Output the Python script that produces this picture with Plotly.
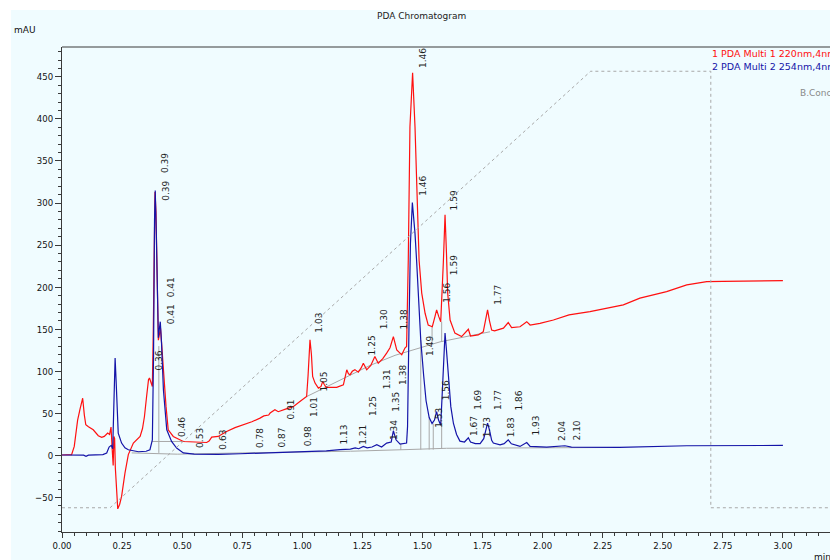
import plotly.graph_objects as go

# ---- Channel 1: PDA Multi 1, 220 nm (time / min, absorbance / mAU) ----
T_220 = [0.00, 0.04, 0.051, 0.065, 0.075, 0.086, 0.093, 0.099, 0.11, 0.13, 0.151, 0.165,
         0.176, 0.185, 0.19, 0.198, 0.204, 0.209, 0.213, 0.216, 0.219, 0.222, 0.232, 0.24,
         0.248, 0.262, 0.276, 0.297, 0.325, 0.335, 0.343, 0.352, 0.36, 0.364, 0.372, 0.376,
         0.380, 0.384, 0.387, 0.391, 0.396, 0.401, 0.406, 0.41, 0.414, 0.422, 0.433, 0.442,
         0.463, 0.505, 0.56, 0.602, 0.612, 0.623, 0.65, 0.685, 0.72, 0.755, 0.79, 0.824,
         0.84, 0.86, 0.866, 0.886, 0.9, 0.93, 0.962, 0.99, 1.018, 1.024, 1.032, 1.038,
         1.043, 1.053, 1.067, 1.078, 1.085, 1.092, 1.099, 1.12, 1.143, 1.171, 1.185, 1.192,
         1.199, 1.208, 1.219, 1.233, 1.245, 1.254, 1.268, 1.285, 1.302, 1.316, 1.335, 1.351,
         1.365, 1.379, 1.393, 1.414, 1.427, 1.434, 1.441, 1.448, 1.459, 1.469, 1.476, 1.486,
         1.497, 1.511, 1.524, 1.541, 1.552, 1.559, 1.568, 1.576, 1.587, 1.594, 1.600, 1.605,
         1.615, 1.635, 1.663, 1.691, 1.70, 1.732, 1.753, 1.763, 1.771, 1.779, 1.788, 1.80,
         1.837, 1.857, 1.871, 1.906, 1.934, 1.948, 1.989, 2.045, 2.093, 2.11, 2.197, 2.308,
         2.336, 2.405, 2.516, 2.6, 2.683, 2.75, 3.0]
A_220 = [0.5, 1.0, 10.7, 42, 55, 68, 48, 36.5, 34, 30.5, 23.4, 21.5,
         22.6, 26, 26.6, 25, 33.7, 6.8, -12, 22.6, 20, -15, -63.5, -58,
         -48.7, -21, 1, 14.7, 22.6, 32, 46, 70, 90, 92, 85, 82,
         150, 260, 313, 290, 190, 137, 145, 151, 135, 98, 58, 30.5,
         22.6, 16.6, 15.5, 15.4, 17, 21.8, 22.6, 28.5, 33, 36.5, 40, 44.4,
         47, 48, 50.4, 54.3, 52, 55, 58, 64, 70, 95, 137.4, 120,
         94, 86, 80, 82, 88, 84, 81, 81, 81, 84, 101.8, 97,
         96, 100, 102, 99, 104, 109.7, 101.8, 107, 117.6, 109.7, 115, 121.6,
         128, 141.3, 125.5, 119.6, 127.6, 129.5, 232, 390.7, 455, 390.7, 311.6, 232,
         193, 169, 155, 153, 165, 173, 165, 159, 230, 286, 240, 193,
         161, 145.4, 141.3, 150, 142, 143.3, 147, 160, 173, 160, 149, 148,
         151.3, 158, 152, 153, 159, 155, 157, 161, 165, 167, 171, 177.8,
         179, 187, 194.8, 202.7, 206.7, 207, 207.8]

# ---- Channel 2: PDA Multi 2, 254 nm ----
T_254 = [0.00, 0.05, 0.09, 0.10, 0.11, 0.17, 0.186, 0.196, 0.205, 0.211, 0.216, 0.221,
         0.225, 0.228, 0.234, 0.248, 0.262, 0.276, 0.318, 0.35, 0.366, 0.376, 0.381, 0.385,
         0.388, 0.392, 0.397, 0.401, 0.405, 0.409, 0.414, 0.422, 0.436, 0.456, 0.477, 0.505,
         0.55, 0.65, 0.741, 0.85, 0.962, 1.018, 1.10, 1.157, 1.20, 1.22, 1.235, 1.254,
         1.27, 1.29, 1.31, 1.33, 1.351, 1.37, 1.379, 1.39, 1.407, 1.434, 1.438, 1.444,
         1.45, 1.458, 1.469, 1.476, 1.493, 1.505, 1.515, 1.528, 1.540, 1.550, 1.559, 1.567,
         1.576, 1.585, 1.594, 1.600, 1.608, 1.618, 1.629, 1.642, 1.656, 1.675, 1.691, 1.70,
         1.72, 1.74, 1.755, 1.771, 1.779, 1.788, 1.795, 1.823, 1.84, 1.857, 1.87, 1.906,
         1.934, 1.948, 2.017, 2.093, 2.12, 2.32, 2.6, 3.0]
A_254 = [0.5, 0.5, 0.3, -1, 0.3, 1, 2.8, 10, 12, 8, 60, 115.7,
         90, 58, 26.6, 14.7, 9, 6.8, 4.4, 5, 6.8, 18.6, 120, 280,
         315, 270, 170, 140, 150, 159, 135, 78, 30.5, 16.6, 8.8, 3,
         1.5, 1.2, 2, 3, 3.6, 4.8, 5.5, 6.8, 7.5, 9, 8, 10.7,
         9, 10, 12.7, 10, 14.7, 16, 29.3, 18.6, 13.5, 14.7, 34.4, 153,
         252, 300.5, 264, 230, 137, 95, 65, 45, 38, 42, 52, 42,
         36, 90, 145.4, 125, 95, 58, 38, 25, 17, 16, 21, 16,
         14, 14, 20, 38.5, 30, 18, 14.7, 12.7, 14, 18.6, 13.9, 10.7,
         15.4, 10.7, 10, 11.5, 10, 9.5, 11.5, 11.9]

# ---- Pump B concentration program (min, %) ----
GRAD_T = [0.0, 0.2, 2.2, 2.7, 2.7, 3.2]
GRAD_B = [5, 5, 95, 95, 5, 5]

# ---- Integration baselines ----
BASE_220_T = [1.018, 1.157, 1.282, 1.386, 1.573, 1.781]
BASE_220_A = [70, 89.4, 107, 119, 135, 147]
BASE_220_EARLY_T = [0.374, 0.512]
BASE_220_EARLY_A = [16.6, 16.6]
BASE_254_T = [0.29, 0.48, 0.75, 1.2, 1.44, 1.6, 2.32]
BASE_254_A = [3, 1.5, 3, 5, 7, 8.5, 9.5]

# Peak separation drop lines: retention time, lower and upper signal
DROP_RT = [0.403, 1.41, 1.493, 1.528, 1.545, 1.58, 1.54, 1.58]
DROP_LO = [3, 6.5, 7, 7, 7, 8, 133, 135]
DROP_HI = [130, 14, 137, 45, 38, 36, 153, 159]

# ---- Peak retention-time labels and the signal level under each label ----
PEAK_RT = ["1.46", "0.39", "0.39", "1.59", "1.46", "1.59", "0.41", "0.41", "1.56", "1.77",
           "1.03", "1.30", "1.38", "1.25", "0.36", "1.49", "1.05", "1.31", "1.38", "1.56",
           "1.25", "1.35", "1.01", "0.91", "1.69", "1.77", "1.86", "0.46", "1.13", "1.21",
           "1.34", "1.53", "1.67", "1.73", "1.83", "1.93", "2.04", "2.10", "0.53", "0.63",
           "0.78", "0.87", "0.98"]
PEAK_LABEL_Y = [458, 333, 300, 289, 306, 212, 185, 153, 179, 177,
                143, 148, 147, 117, 98, 116, 74, 76, 81, 63,
                45, 50, 43, 40, 52, 52, 51, 19, 10, 10,
                16, 30, 21, 19, 19, 21, 15, 15, 7, 5,
                7, 7, 9]

Y_RANGE = [-91, 485.5]
X_RANGE = [0, 3.196]
X_TICKS = [0.00, 0.25, 0.50, 0.75, 1.00, 1.25, 1.50, 1.75, 2.00, 2.25, 2.50, 2.75, 3.00]

RED = "#FF1010"
BLUE = "#1414A8"
GREY = "#A8A8A8"
AXIS = "#3A3A3A"
BG = "#F0FCFF"
FONT = "DejaVu Sans"
TICK_FONT = "DejaVu Sans Condensed"

fig = go.Figure()

grey_line = dict(color=GREY, width=1)
fig.add_trace(go.Scatter(x=GRAD_T, y=GRAD_B, yaxis="y2", mode="lines",
                         line=dict(color=GREY, width=1, dash="dot"), hoverinfo="skip"))
fig.add_trace(go.Scatter(x=BASE_220_T, y=BASE_220_A, mode="lines", line=grey_line, hoverinfo="skip"))
fig.add_trace(go.Scatter(x=BASE_220_EARLY_T, y=BASE_220_EARLY_A, mode="lines", line=grey_line, hoverinfo="skip"))
fig.add_trace(go.Scatter(x=BASE_254_T, y=BASE_254_A, mode="lines", line=grey_line, hoverinfo="skip"))

drop_x, drop_y = [], []
for rt, lo, hi in zip(DROP_RT, DROP_LO, DROP_HI):
    drop_x += [rt, rt, None]
    drop_y += [lo, hi, None]
fig.add_trace(go.Scatter(x=drop_x, y=drop_y, mode="lines", line=grey_line, hoverinfo="skip"))

fig.add_trace(go.Scatter(x=T_220, y=A_220, mode="lines", name="1 PDA Multi 1 220nm,4nm",
                         line=dict(color=RED, width=1.2)))
fig.add_trace(go.Scatter(x=T_254, y=A_254, mode="lines", name="2 PDA Multi 2 254nm,4nm",
                         line=dict(color=BLUE, width=1.2)))

annotations = []
for rt, ybot in zip(PEAK_RT, PEAK_LABEL_Y):
    annotations.append(dict(x=float(rt), y=ybot, xref="x", yref="y", text=rt,
                            showarrow=False, textangle=-90, xanchor="center", yanchor="bottom",
                            xshift=10, font=dict(family=FONT, size=9, color="#1E1E1E")))

# Header texts and channel captions
annotations += [
    dict(text="PDA Chromatogram", x=(421 - 62) / 768, y=1 + (47 - 16) / 485, xref="paper", yref="paper",
         showarrow=False, xanchor="center", yanchor="middle", font=dict(family=FONT, size=9, color="#222")),
    dict(text="mAU", x=(12 - 62) / 768, y=1 + (47 - 30) / 485, xref="paper", yref="paper",
         showarrow=False, xanchor="left", yanchor="middle", font=dict(family=FONT, size=9, color="#111")),
    dict(text="min", x=(812 - 62) / 768, y=-(557 - 532) / 485, xref="paper", yref="paper",
         showarrow=False, xanchor="left", yanchor="middle", font=dict(family=FONT, size=9, color="#111")),
    dict(text="1 PDA Multi 1 220nm,4nm", x=(710 - 62) / 768, y=(532 - 54) / 485, xref="paper", yref="paper",
         showarrow=False, xanchor="left", yanchor="middle", font=dict(family=FONT, size=9.5, color=RED)),
    dict(text="2 PDA Multi 2 254nm,4nm", x=(710 - 62) / 768, y=(532 - 67) / 485, xref="paper", yref="paper",
         showarrow=False, xanchor="left", yanchor="middle", font=dict(family=FONT, size=9.5, color=BLUE)),
    dict(text="B.Conc", x=(798 - 62) / 768, y=(532 - 93) / 485, xref="paper", yref="paper",
         showarrow=False, xanchor="left", yanchor="middle", font=dict(family=FONT, size=9, color="#8A8A8A")),
]

fig.update_layout(
    width=830, height=560,
    margin=dict(l=62, r=0, t=47, b=28),
    paper_bgcolor="white",
    plot_bgcolor=BG,
    showlegend=False,
    annotations=annotations,
    shapes=[
        dict(type="rect", xref="paper", yref="paper", x0=(11 - 62) / 768, x1=1.01,
             y0=-0.1, y1=1 + (47 - 10) / 485, fillcolor=BG, line=dict(width=0), layer="below"),
        dict(type="line", xref="paper", yref="paper", x0=0, x1=1.01, y0=1, y1=1,
             line=dict(color=AXIS, width=1)),
    ],
    xaxis=dict(range=X_RANGE, tickvals=X_TICKS, tickformat=".2f", ticks="outside", ticklen=5,
               tickwidth=1, tickcolor=AXIS, showline=True, linecolor=AXIS, linewidth=1,
               showgrid=False, zeroline=False,
               minor=dict(dtick=0.05, tick0=0, ticks="outside", ticklen=3, tickcolor=AXIS, showgrid=False),
               tickfont=dict(family=TICK_FONT, size=9.5, color="#111")),
    yaxis=dict(range=Y_RANGE, tick0=0, dtick=50, ticks="outside", ticklen=6, tickwidth=1,
               tickcolor=AXIS, showline=True, linecolor=AXIS, linewidth=1, showgrid=False,
               zeroline=False,
               minor=dict(dtick=10, tick0=0, ticks="outside", ticklen=3, tickcolor=AXIS, showgrid=False),
               tickfont=dict(family=TICK_FONT, size=9.5, color="#111")),
    yaxis2=dict(range=[0, 100], overlaying="y", visible=False),
)

fig.write_html("out.html")
